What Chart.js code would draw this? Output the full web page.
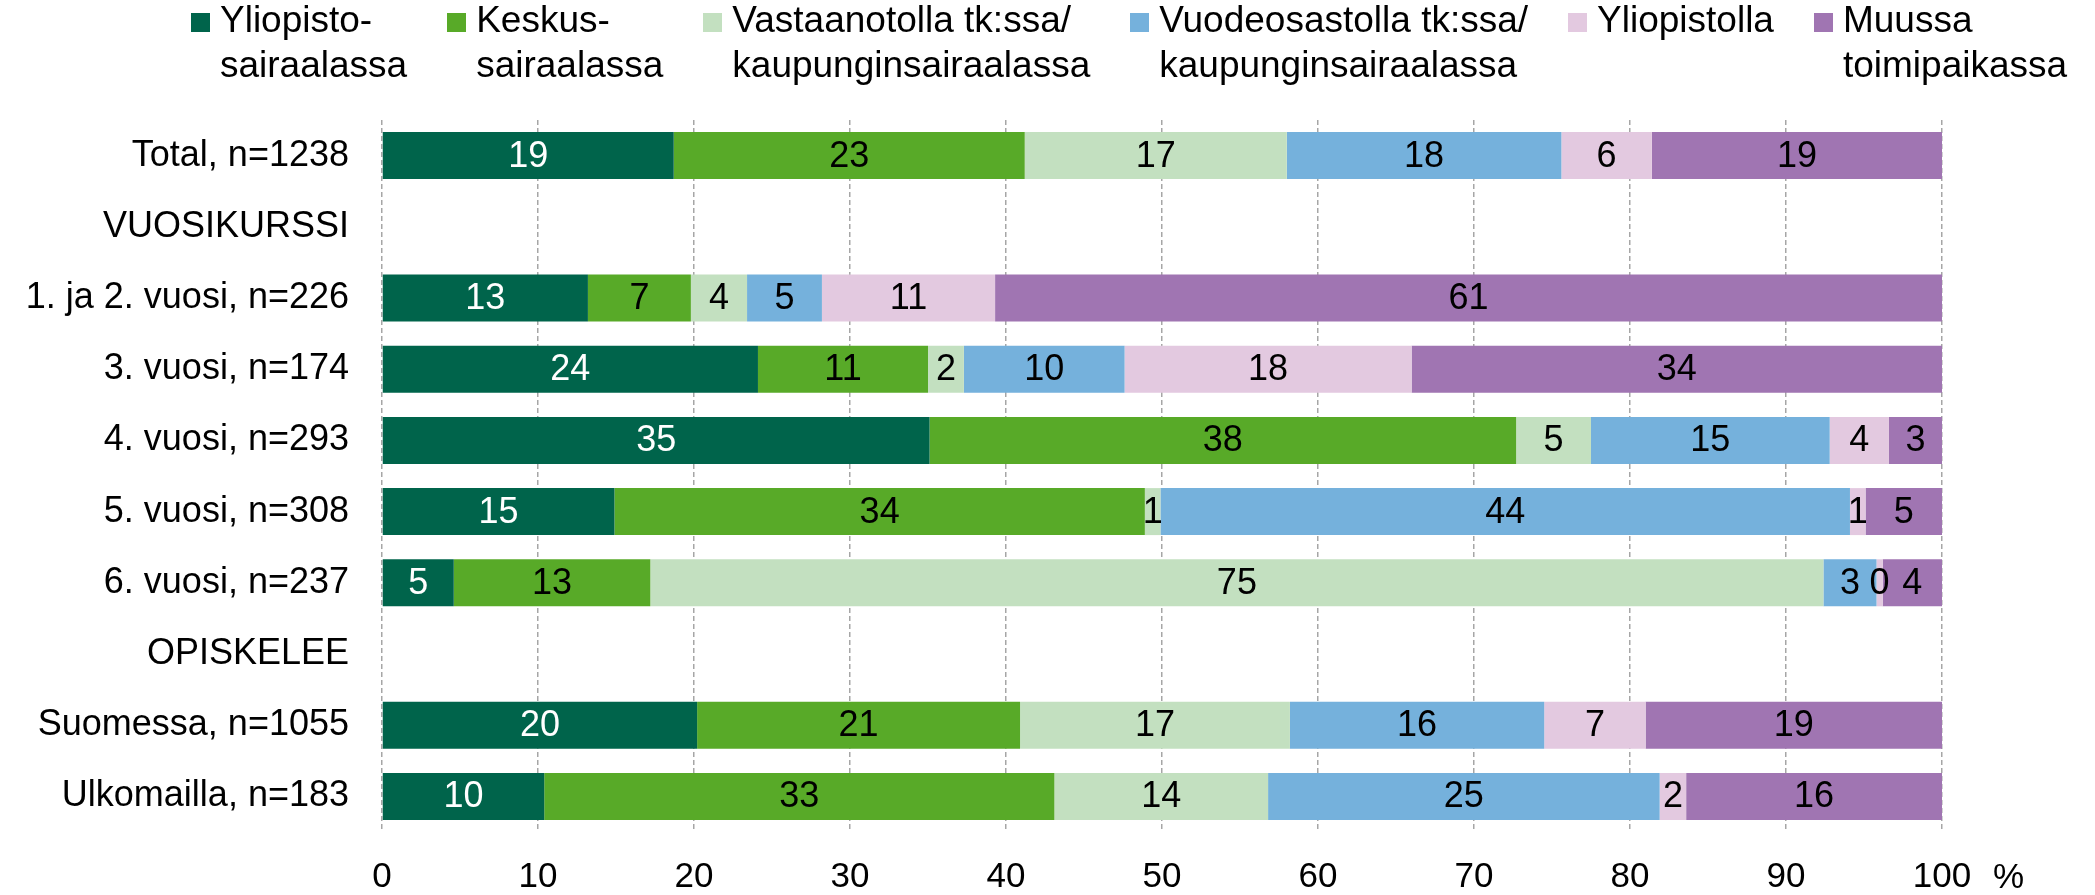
<!DOCTYPE html>
<html>
<head>
<meta charset="utf-8">
<script src="https://cdn.jsdelivr.net/npm/chart.js@4.4.1/dist/chart.umd.min.js"></script>
<style>
  body { margin: 0; background: #fff; }
  #contenedor { position: relative; width: 2095px; height: 895px; }
  #leyenda {
    position: absolute; top: -3px; left: 191px;
    display: flex; align-items: flex-start;
    font-family: "Liberation Sans", Arial, sans-serif;
    font-size: 37px; line-height: 45px; color: #000;
    white-space: nowrap;
  }
  .item { display: flex; align-items: flex-start; margin-right: 40px; flex: none; }
  .caja { width: 19px; height: 19px; margin-top: 16px; margin-right: 10px; flex: none; }
</style>
</head>
<body>
<div id="contenedor">
  <canvas id="ubicacion-chart"></canvas>
  <div id="leyenda"></div>
</div>
<script>
// Categorías (filas del gráfico); las filas de encabezado no tienen datos
var categorias = [
  "Total, n=1238",
  "VUOSIKURSSI",
  "1. ja 2. vuosi, n=226",
  "3. vuosi, n=174",
  "4. vuosi, n=293",
  "5. vuosi, n=308",
  "6. vuosi, n=237",
  "OPISKELEE",
  "Suomessa, n=1055",
  "Ulkomailla, n=183"
];

// Nombres de las series (con salto de línea como en el original)
var nombresSeries = [
  ["Yliopisto-", "sairaalassa"],
  ["Keskus-", "sairaalassa"],
  ["Vastaanotolla tk:ssa/", "kaupunginsairaalassa"],
  ["Vuodeosastolla tk:ssa/", "kaupunginsairaalassa"],
  ["Yliopistolla"],
  ["Muussa", "toimipaikassa"]
];

// Valores de cada serie en %
var yliopistosairaala = [18.7, null, 13.2, 24.1, 35.1, 14.9, 4.6, null, 20.2, 10.4];
var keskussairaala    = [22.5, null, 6.6, 10.9, 37.6, 34.0, 12.6, null, 20.7, 32.7];
var vastaanotto       = [16.8, null, 3.6, 2.3, 4.8, 1.0, 75.2, null, 17.3, 13.7];
var vuodeosasto       = [17.6, null, 4.8, 10.3, 15.3, 44.2, 3.4, null, 16.3, 25.1];
var yliopisto         = [5.8, null, 11.1, 18.4, 3.8, 1.0, 0.4, null, 6.5, 1.7];
var muu               = [18.6, null, 60.7, 34.0, 3.4, 4.9, 3.8, null, 19.0, 16.4];

// Marcas del eje x
var ticksX = [0, 10, 20, 30, 40, 50, 60, 70, 80, 90, 100];

var colores = ["#00644B", "#58AA28", "#C3E0C0", "#75B1DC", "#E3C9E0", "#A075B2"];
var coloresTexto = ["#FFFFFF", "#000000", "#000000", "#000000", "#000000", "#000000"];

var fuente = "'Liberation Sans', Arial, sans-serif";

var series = [yliopistosairaala, keskussairaala, vastaanotto, vuodeosasto, yliopisto, muu];

var data = {
  labels: categorias,
  datasets: series.map(function (valores, i) {
    return {
      label: nombresSeries[i].join(" "),
      data: valores,
      backgroundColor: colores[i],
      borderWidth: 0,
      barPercentage: 0.66,
      categoryPercentage: 1
    };
  })
};

// Plugin: etiquetas de valor en el centro de cada segmento y el signo % del eje
var etiquetas = {
  id: "etiquetas",
  afterDatasetsDraw: function (chart) {
    var ctx = chart.ctx;
    ctx.save();
    ctx.font = "36px " + fuente;
    ctx.textAlign = "center";
    ctx.textBaseline = "middle";
    chart.data.datasets.forEach(function (ds, i) {
      var meta = chart.getDatasetMeta(i);
      meta.data.forEach(function (bar, j) {
        var v = ds.data[j];
        if (v === null || v === undefined) return;
        var p = bar.getProps(["x", "y", "base"], true);
        ctx.fillStyle = coloresTexto[i];
        ctx.fillText(String(Math.round(v)), (p.x + p.base) / 2, p.y + 1);
      });
    });
    ctx.restore();
  },
  afterDraw: function (chart) {
    var ctx = chart.ctx;
    var escala = chart.scales.x;
    ctx.save();
    ctx.font = "35px " + fuente;
    ctx.fillStyle = "#000";
    ctx.textAlign = "left";
    ctx.textBaseline = "middle";
    ctx.fillText("%", escala.getPixelForValue(100) + 51, escala.top + 46);
    ctx.restore();
  }
};

var options = {
  indexAxis: "y",
  responsive: true,
  maintainAspectRatio: false,
  animation: false,
  layout: { padding: { top: 120, right: 153, bottom: 0, left: 0 } },
  plugins: {
    legend: { display: false },
    tooltip: { enabled: false }
  },
  scales: {
    x: {
      stacked: true,
      min: 0,
      max: 100,
      afterBuildTicks: function (scale) {
        scale.ticks = ticksX.map(function (v) { return { value: v }; });
      },
      afterFit: function (scale) { scale.height = 63; },
      // en v4 el trazo discontinuo de la rejilla se define en border.dash
      border: { display: false, dash: [5, 3] },
      grid: {
        color: "#A6A6A6",
        lineWidth: 1.5,
        drawTicks: false
      },
      ticks: {
        color: "#000",
        padding: 28,
        maxRotation: 0,
        font: { family: fuente, size: 35, lineHeight: 1 }
      }
    },
    y: {
      stacked: true,
      afterFit: function (scale) { scale.width = 382; },
      border: { display: false },
      grid: { display: false, drawTicks: false },
      ticks: {
        color: "#000",
        padding: 33,
        autoSkip: false,
        font: { family: fuente, size: 36, lineHeight: 1 }
      }
    }
  }
};

var ctx = document.getElementById("ubicacion-chart").getContext("2d");
var chart = new Chart(ctx, {
  type: "bar",
  data: data,
  options: options,
  plugins: [etiquetas]
});

// Leyenda en HTML porque los textos van en dos líneas
var leyenda = document.getElementById("leyenda");
nombresSeries.forEach(function (lineas, i) {
  var item = document.createElement("div");
  item.className = "item";
  var caja = document.createElement("span");
  caja.className = "caja";
  caja.style.background = colores[i];
  var texto = document.createElement("span");
  texto.innerHTML = lineas.join("<br>");
  item.appendChild(caja);
  item.appendChild(texto);
  leyenda.appendChild(item);
});
</script>
</body>
</html>
